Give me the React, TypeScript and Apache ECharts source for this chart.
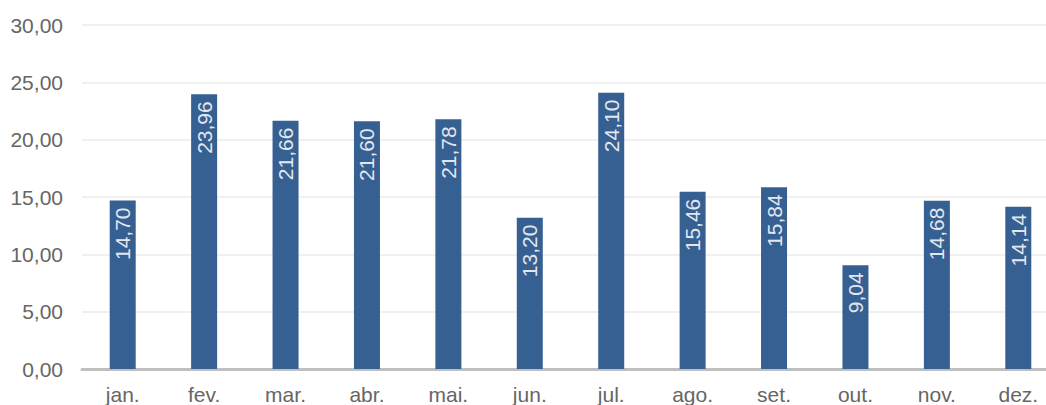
import React, { useEffect, useRef } from "react";
import * as echarts from "echarts";

const categories = ["jan.", "fev.", "mar.", "abr.", "mai.", "jun.", "jul.", "ago.", "set.", "out.", "nov.", "dez."];
const values = [14.7, 23.96, 21.66, 21.6, 21.78, 13.2, 24.1, 15.46, 15.84, 9.04, 14.68, 14.14];
const yMin = 0;
const yMax = 30;
const yInterval = 5;

const fmt = (v: number) => v.toFixed(2).replace(".", ",");

export default function App() {
  const ref = useRef<HTMLDivElement>(null);
  useEffect(() => {
    if (!ref.current) return;
    const chart = echarts.init(ref.current, null, { renderer: "svg" });
    chart.setOption({
      animation: false,
      backgroundColor: "#ffffff",
      textStyle: { fontFamily: "Liberation Sans, Arial, sans-serif" },
      grid: { left: 82, right: 0, top: 25, bottom: 34, containLabel: false },
      xAxis: {
        type: "category",
        data: categories,
        axisLine: { show: true, lineStyle: { color: "#BFBFBF", width: 3 } },
        axisTick: { show: false },
        axisLabel: { color: "#666666", fontSize: 21, margin: 15, interval: 0 },
      },
      yAxis: {
        type: "value",
        min: yMin,
        max: yMax,
        interval: yInterval,
        axisLine: { show: false },
        axisTick: { show: false },
        splitLine: { lineStyle: { color: "#F0F0F0", width: 2 } },
        axisLabel: { color: "#666666", fontSize: 21, margin: 19, formatter: (v: number) => fmt(v) },
      },
      series: [
        {
          type: "bar",
          data: values,
          barWidth: 26,
          itemStyle: { color: "#365F92" },
          label: {
            show: true,
            position: "insideTop",
            rotate: 90,
            align: "right",
            verticalAlign: "middle",
            distance: 7,
            color: "#E2E7EF",
            fontSize: 21,
            formatter: (p: any) => fmt(p.value),
          },
        },
      ],
    });
    return () => chart.dispose();
  }, []);
  return (
    <div style={{ position: "fixed", left: 0, top: 0, width: 1046, height: 405, overflow: "hidden", background: "#fff" }}>
      <div ref={ref} style={{ width: 1059, height: 405 }} />
    </div>
  );
}
